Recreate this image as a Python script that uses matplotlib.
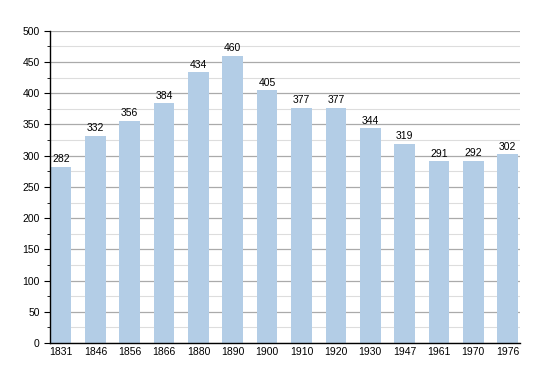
import matplotlib
matplotlib.use("Agg")
import matplotlib.pyplot as plt
from matplotlib.ticker import MultipleLocator

years = ["1831", "1846", "1856", "1866", "1880", "1890", "1900",
         "1910", "1920", "1930", "1947", "1961", "1970", "1976"]
population = [282, 332, 356, 384, 434, 460, 405, 377, 377, 344, 319, 291, 292, 302]

plt.rcParams['font.family'] = ['Liberation Sans', 'DejaVu Sans']

fig = plt.figure(figsize=(5.5, 3.73), dpi=100)
ax = fig.add_axes([0.0909, 0.0804, 0.854, 0.837])

x = range(len(years))
ax.set_axisbelow(True)
ax.yaxis.set_major_locator(MultipleLocator(50))
ax.yaxis.set_minor_locator(MultipleLocator(25))
ax.grid(axis='y', which='major', color='#aaaaaa', linewidth=0.9)
ax.grid(axis='y', which='minor', color='#dddddd', linewidth=0.8)

bars = ax.bar(x, population, width=0.6, color='#b3cde6')
for xi, v in zip(x, population):
    ax.text(xi, v + 4, str(v), ha='center', va='bottom', fontsize=7.5)

ax.set_xticks(list(x))
ax.set_xticklabels(years, fontsize=7.5)
ax.tick_params(axis='x', length=0, pad=3)
ax.tick_params(axis='y', which='major', length=4, labelsize=7.5)
ax.tick_params(axis='y', which='minor', length=2)
ax.set_ylim(0, 500)
ax.set_xlim(-0.32, 13.35)

for s in ['top', 'right']:
    ax.spines[s].set_visible(False)
ax.spines['left'].set_linewidth(1)
ax.spines['bottom'].set_linewidth(1)

fig.savefig("out.png", dpi=100)
